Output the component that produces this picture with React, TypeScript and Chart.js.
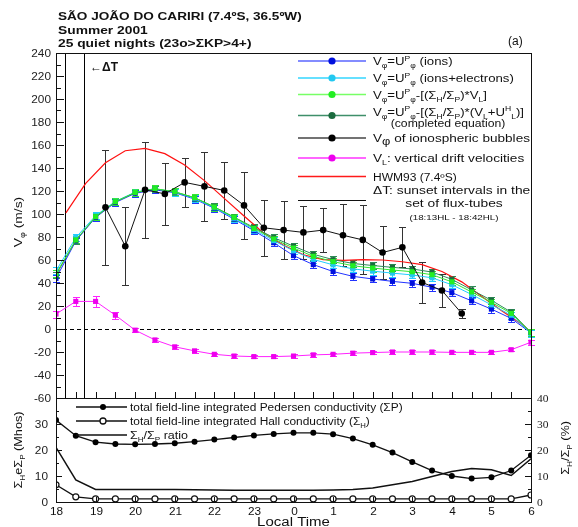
import React, { useEffect, useRef } from 'react';
import { Chart, registerables } from 'chart.js';

Chart.register(...registerables);

const FONT = '"Liberation Sans", Arial, Helvetica, sans-serif';
const SERIF = '"Liberation Serif", "Times New Roman", serif';

// x values are hours after 18:00 LT
const hourLabels = ['18', '19', '20', '21', '22', '23', '0', '1', '2', '3', '4', '5', '6'];
const halfHourTimes = [0, 0.5, 1, 1.5, 2, 2.5, 3, 3.5, 4, 4.5, 5, 5.5, 6, 6.5, 7, 7.5, 8, 8.5, 9, 9.5, 10, 10.5, 11, 11.5, 12];
const bubbleTimes = [1.25, 1.75, 2.25, 2.75, 3.25, 3.75, 4.25, 4.75, 5.25, 5.75, 6.25, 6.75, 7.25, 7.75, 8.25, 8.75, 9.25, 9.75, 10.25];
const hwmTimes = [0.25, 0.75, 1.25, 1.75, 2.25, 2.75, 3.25, 3.75, 4.25, 4.75, 5.25, 5.75, 6.25, 6.75, 7.25, 7.75, 8.25, 8.75, 9.25, 9.75, 10.25, 10.75, 11.25, 11.75, 12];
const sunsetInterval = [0.2167, 0.7]; // 18:13HL - 18:42HL
const velocityTicks = [-60, -40, -20, 0, 20, 40, 60, 80, 100, 120, 140, 160, 180, 200, 220, 240];
const conductivityTicks = [0, 10, 20, 30];
const ratioTicks = [0, 10, 20, 30, 40];

// upper panel (m/s)
const vIons = [44, 76.5, 97, 110, 118, 121, 118.5, 113, 105, 95.5, 85.5, 75, 63.8, 56, 50, 45.8, 43.5, 41.4, 39.7, 36.3, 31.6, 24.5, 17.3, 9.2, -3.5];
const vIonsErr = [3, 3, 3, 3, 3, 3, 3, 3, 3, 3, 3, 3, 3, 3, 3, 3, 3, 3, 3, 3, 3, 3, 3, 3, 3];
const vIonsElec = [50.5, 79.5, 98.5, 111, 119, 122, 119, 113.6, 105.5, 96.3, 86.5, 76.8, 68, 60.5, 55.8, 52.3, 50.3, 48.6, 47, 44.5, 38.5, 30, 21, 12, -4];
const vIonsElecErr = [3, 3, 3, 3, 3, 3, 3, 3, 3, 3, 3, 3, 3, 3, 3, 3, 3, 3, 3, 3, 3, 3, 3, 3, 3];
const vCorr = [48, 77.5, 97.7, 110.7, 118.8, 122, 119.4, 114.2, 106, 97, 87.5, 78.3, 70.4, 63.2, 58.6, 55, 53, 51.3, 49.8, 47.2, 41, 32.2, 23.2, 13.6, -3];
const vCorrErr = [3, 3, 3, 3, 3, 3, 3, 3, 3, 3, 3, 3, 3, 3, 3, 3, 3, 3, 3, 3, 3, 3, 3, 3, 3];
const vComplete = [47, 77, 97.5, 110.5, 118.5, 121.7, 119.2, 114.2, 106.2, 97.3, 88.2, 79.5, 72, 65, 60.3, 57, 55.2, 53.6, 52.2, 49.5, 43.2, 34, 25, 14.6, -3];
const vCompleteErr = [3, 3, 3, 3, 3, 3, 3, 3, 3, 3, 3, 3, 3, 3, 3, 3, 3, 3, 3, 3, 3, 3, 3, 3, 3];
const vBubbles = [105.8, 72, 121, 117.5, 127.5, 124, 120.5, 107.5, 88, 86, 84, 86, 81.5, 77.5, 66.5, 71, 40.5, 33.5, 13.5];
const vBubblesErr = [50, 33.7, 42, 27, 21, 30, 25, 29, 24.5, 25.5, 23, 19, 27, 30, 23, 17.5, 18, 14, 4];
const vVertical = [13, 24, 24, 12, -1, -9.5, -15.5, -19, -22, -23.5, -24, -24, -23.5, -22.5, -22, -21, -20.5, -20, -20, -20, -20.3, -20.3, -20.3, -18, -11.5];
const vVerticalErr = [3, 4, 4.5, 3, 1.5, 1.5, 1.5, 1.5, 1.5, 1.5, 1.5, 1.5, 1.5, 1.5, 1.5, 1.5, 1.5, 1.5, 1.5, 1.5, 1.5, 1.5, 1.5, 1.5, 2];
const hwm93 = [101, 126.7, 144.6, 155, 157, 152.5, 142.6, 129, 113.6, 98.3, 83.2, 72.8, 64.6, 60.3, 59.7, 60.3, 60, 58.5, 56, 50, 41, 28.5, 16, 4.5, -3];

// lower panel
const sigmaP = [31.5, 25.5, 23, 22.3, 22.2, 22.3, 22.6, 23.2, 24, 24.8, 25.6, 26.2, 26.6, 26.6, 26.1, 24.4, 22, 19, 15.4, 12.1, 10, 9, 9.5, 12.1, 18];
const sigmaH = [6.6, 2, 1.2, 1.2, 1.2, 1.2, 1.2, 1.2, 1.2, 1.2, 1.2, 1.2, 1.2, 1.2, 1.2, 1.2, 1.2, 1.2, 1.2, 1.2, 1.2, 1.2, 1.2, 1.2, 2.7];
const ratioHP = [21, 8.5, 4.8, 4.8, 4.8, 4.8, 4.8, 4.7, 4.6, 4.5, 4.5, 4.5, 4.5, 4.5, 4.6, 4.8, 5.4, 6.6, 7.9, 9.8, 11.7, 12.9, 12.4, 10.2, 16.6];

const pts = (xs: number[], ys: number[]) => xs.map((x, i) => ({ x, y: ys[i] }));

type Seg = { t: string; s?: 'sub' | 'sup'; k?: number };
const T = (t: string): Seg => ({ t });
const sub = (t: string): Seg => ({ t, s: 'sub' });
const sup = (t: string): Seg => ({ t, s: 'sup' });

type TextOpts = { align?: 'left' | 'center' | 'right'; weight?: string; family?: string; sx?: number; middle?: boolean };

function segFont(sg: Seg, size: number, weight: string, family: string) {
  const k = sg.k ?? (sg.s ? 0.65 : 1);
  return `${weight} ${size * k}px ${family}`;
}

function drawRich(ctx: CanvasRenderingContext2D, segs: Seg[] | string, x: number, y: number, size: number, o: TextOpts = {}) {
  const list: Seg[] = typeof segs === 'string' ? [T(segs)] : segs;
  const weight = o.weight ?? 'normal';
  const family = o.family ?? FONT;
  const sx = o.sx ?? 1.2;
  let w = 0;
  for (const sg of list) {
    ctx.font = segFont(sg, size, weight, family);
    w += ctx.measureText(sg.t).width;
  }
  let cx = o.align === 'center' ? -w / 2 : o.align === 'right' ? -w : 0;
  ctx.save();
  ctx.translate(x, y + (o.middle ? size * 0.36 : 0));
  ctx.scale(sx, 1);
  ctx.textAlign = 'left';
  ctx.textBaseline = 'alphabetic';
  for (const sg of list) {
    ctx.font = segFont(sg, size, weight, family);
    const dy = sg.s === 'sub' ? size * 0.28 : sg.s === 'sup' ? -size * 0.38 : 0;
    ctx.fillText(sg.t, cx, dy);
    cx += ctx.measureText(sg.t).width;
  }
  ctx.restore();
}

function seg(ctx: CanvasRenderingContext2D, x1: number, y1: number, x2: number, y2: number) {
  ctx.beginPath();
  ctx.moveTo(x1, y1);
  ctx.lineTo(x2, y2);
  ctx.stroke();
}

const errorBars = {
  id: 'errorBars',
  beforeDatasetsDraw(chart: any) {
    const { ctx, chartArea: a } = chart;
    const xs = chart.scales.x;
    const ys = chart.scales.y;
    ctx.save();
    ctx.strokeStyle = '#000';
    ctx.lineWidth = 1;
    ctx.setLineDash([4, 3]);
    const y0 = Math.round(ys.getPixelForValue(0)) + 0.5;
    seg(ctx, a.left, y0, a.right, y0);
    ctx.setLineDash([]);
    for (const t of sunsetInterval) {
      const px = Math.round(xs.getPixelForValue(t)) + 0.5;
      seg(ctx, px, a.top, px, a.bottom);
    }
    for (let i = chart.data.datasets.length - 1; i >= 0; i--) {
      const ds = chart.data.datasets[i];
      if (!ds.err) continue;
      const meta = chart.getDatasetMeta(i);
      ctx.strokeStyle = ds.errColor;
      ctx.lineWidth = 1;
      meta.data.forEach((el: any, j: number) => {
        const v = ds.data[j].y;
        const e = ds.err[j];
        const x = Math.round(el.x) + 0.5;
        const t = Math.round(ys.getPixelForValue(v + e)) + 0.5;
        const b = Math.round(ys.getPixelForValue(v - e)) + 0.5;
        ctx.beginPath();
        ctx.moveTo(x, t);
        ctx.lineTo(x, b);
        ctx.moveTo(x - ds.cap, t);
        ctx.lineTo(x + ds.cap, t);
        ctx.moveTo(x - ds.cap, b);
        ctx.lineTo(x + ds.cap, b);
        ctx.stroke();
      });
    }
    ctx.restore();
  },
};

const topLegend = [
  { y: 61, line: '#5a66ff', dot: '#0010dd', segs: [T('V'), sub('φ'), T('=U'), sup('P'), sub('φ'), T(' (ions)')], size: 11, sx: 1.2 },
  { y: 78, line: '#33d6ff', dot: '#22c8f0', segs: [T('V'), sub('φ'), T('=U'), sup('P'), sub('φ'), T(' (ions+electrons)')], size: 11, sx: 1.2 },
  { y: 94.5, line: '#77ff66', dot: '#22ee22', segs: [T('V'), sub('φ'), T('=U'), sup('P'), sub('φ'), T('-[(Σ'), sub('H'), T('/Σ'), sub('P'), T(')*V'), sub('L'), T(']')], size: 11, sx: 1.2 },
  { y: 115.5, line: '#3f8f6a', dot: '#1b6b3e', segs: [T('V'), sub('φ'), T('=U'), sup('P'), sub('φ'), T('-[(Σ'), sub('H'), T('/Σ'), sub('P'), T(')*(V'), sub('L'), T('+U'), sup('H'), sub('L'), T(')]')], size: 11, sx: 1.2, ty: 111.5 },
  { y: 138, line: '#444444', dot: '#000000', segs: [T('V'), { t: 'φ', s: 'sub', k: 0.95 }, T(' of ionospheric bubbles')], size: 11.5, sx: 1.18 },
  { y: 158, line: '#ff33ff', dot: '#ee00ee', segs: [T('V'), sub('L'), T(': vertical drift velocities')], size: 11, sx: 1.24 },
  { y: 176.5, line: '#ff1a1a', dot: '', segs: [T('HWM93 (7.4ºS)')], size: 10, sx: 1.2 },
];

const topDecor = {
  id: 'topDecor',
  afterDraw(chart: any) {
    const { ctx, chartArea: a } = chart;
    const xs = chart.scales.x;
    const ys = chart.scales.y;
    ctx.save();
    ctx.strokeStyle = '#111';
    ctx.lineWidth = 1;
    ctx.strokeRect(a.left + 0.5, a.top + 0.5, a.right - a.left, a.bottom - a.top);
    for (let v = -60; v <= 240; v += 10) {
      const py = Math.round(ys.getPixelForValue(v)) + 0.5;
      seg(ctx, a.left, py, a.left + (v % 20 === 0 ? 8 : 5), py);
    }
    for (const t of halfHourTimes) {
      const px = Math.round(xs.getPixelForValue(t)) + 0.5;
      seg(ctx, px, a.bottom, px, a.bottom - 6);
    }

    ctx.fillStyle = '#222';
    for (const v of velocityTicks) {
      drawRich(ctx, String(v), 51, ys.getPixelForValue(v), 10, { align: 'right', middle: true, sx: 1.18 });
    }

    ctx.fillStyle = '#111';
    drawRich(ctx, 'SÃO JOÃO DO CARIRI (7.4ºS, 36.5ºW)', 58, 20, 11.5, { weight: 'bold', sx: 1.18 });
    drawRich(ctx, 'Summer 2001', 58, 33.5, 11.5, { weight: 'bold', sx: 1.2 });
    drawRich(ctx, '25 quiet nights (23o>ΣKP>4+)', 58, 47, 11.5, { weight: 'bold', sx: 1.2 });
    drawRich(ctx, '(a)', 508, 45, 12, { sx: 1 });
    drawRich(ctx, '←ΔT', 90, 71, 12, { weight: 'bold', sx: 1 });

    ctx.save();
    ctx.translate(22, 222);
    ctx.rotate(-Math.PI / 2);
    drawRich(ctx, [T('V'), sub('φ'), T(' (m/s)')], 0, 0, 11.5, { align: 'center', sx: 1.2 });
    ctx.restore();

    for (const it of topLegend) {
      ctx.strokeStyle = it.line;
      ctx.lineWidth = 1.5;
      seg(ctx, 298, it.y, 366, it.y);
      if (it.dot) {
        ctx.fillStyle = it.dot;
        ctx.beginPath();
        ctx.arc(332, it.y, 3.6, 0, Math.PI * 2);
        ctx.fill();
      }
      ctx.fillStyle = '#111';
      drawRich(ctx, it.segs, 373, (it.ty ?? it.y) + 4, it.size, { sx: it.sx });
    }
    ctx.fillStyle = '#111';
    drawRich(ctx, '(completed equation)', 448, 127, 10, { align: 'center', sx: 1.22 });
    drawRich(ctx, 'ΔT: sunset intervals in the', 373, 194, 11.5, { sx: 1.2 });
    drawRich(ctx, 'set of flux-tubes', 454, 207, 11.5, { align: 'center', sx: 1.2 });
    drawRich(ctx, '(18:13HL - 18:42HL)', 454, 220, 8, { align: 'center', sx: 1.22 });
    ctx.strokeStyle = '#111';
    ctx.lineWidth = 1;
    seg(ctx, 298, 200.5, 366, 200.5);
    ctx.restore();
  },
};

const bottomDecor = {
  id: 'bottomDecor',
  afterDraw(chart: any) {
    const { ctx, chartArea: a } = chart;
    const xs = chart.scales.x;
    const ys = chart.scales.y;
    const y2 = chart.scales.y2;
    ctx.save();
    ctx.strokeStyle = '#111';
    ctx.lineWidth = 1;
    ctx.strokeRect(a.left + 0.5, a.top + 0.5, a.right - a.left, a.bottom - a.top);
    for (let v = 0; v <= 40; v += 5) {
      const py = Math.round(ys.getPixelForValue(v)) + 0.5;
      const len = v % 10 === 0 ? 6 : 3;
      seg(ctx, a.left, py, a.left + len, py);
      seg(ctx, a.right, py, a.right - len, py);
    }
    ctx.fillStyle = '#111';
    for (let h = 0; h < hourLabels.length; h++) {
      const px = Math.round(xs.getPixelForValue(h)) + 0.5;
      seg(ctx, px, a.bottom, px, a.bottom - 5);
      drawRich(ctx, hourLabels[h], px, a.bottom + 9, 10, { align: 'center', middle: true, sx: 1.18 });
    }
    ctx.fillStyle = '#222';
    for (const v of conductivityTicks) {
      drawRich(ctx, String(v), 48, ys.getPixelForValue(v), 10, { align: 'right', middle: true, sx: 1.18 });
    }
    for (const v of ratioTicks) {
      drawRich(ctx, String(v), 537, y2.getPixelForValue(v), 10, { family: SERIF, middle: true, sx: 1.15 });
    }

    ctx.strokeStyle = '#111';
    ctx.lineWidth = 1.3;
    seg(ctx, 76, 407, 127, 407);
    seg(ctx, 76, 421, 127, 421);
    seg(ctx, 76, 435, 127, 435);
    ctx.fillStyle = '#000';
    ctx.beginPath();
    ctx.arc(103, 407, 3, 0, Math.PI * 2);
    ctx.fill();
    ctx.fillStyle = '#fff';
    ctx.beginPath();
    ctx.arc(103, 421, 3, 0, Math.PI * 2);
    ctx.fill();
    ctx.stroke();
    ctx.fillStyle = '#111';
    drawRich(ctx, 'total field-line integrated Pedersen conductivity (ΣP)', 130, 411, 10, { sx: 1.19 });
    drawRich(ctx, [T('total field-line integrated Hall conductivity (Σ'), sub('H'), T(')')], 130, 425, 10, { sx: 1.19 });
    drawRich(ctx, [T('Σ'), sub('H'), T('/Σ'), sub('P'), T(' ratio')], 130, 439, 10.5, { sx: 1.19 });

    ctx.save();
    ctx.translate(22, 450);
    ctx.rotate(-Math.PI / 2);
    drawRich(ctx, [T('Σ'), sub('H'), T('eΣ'), sub('P'), T(' (Mhos)')], 0, 0, 11, { align: 'center', sx: 1.15 });
    ctx.restore();
    ctx.save();
    ctx.translate(569, 448);
    ctx.rotate(-Math.PI / 2);
    drawRich(ctx, [T('Σ'), sub('H'), T('/Σ'), sub('P'), T(' (%)')], 0, 0, 11, { align: 'center', sx: 1.15 });
    ctx.restore();
    drawRich(ctx, 'Local Time', (a.left + a.right) / 2, 525.5, 12, { align: 'center', sx: 1.25 });
    ctx.restore();
  },
};

export default function App() {
  const topRef = useRef<HTMLCanvasElement>(null);
  const botRef = useRef<HTMLCanvasElement>(null);

  useEffect(() => {
    const colored = (label: string, data: number[], err: number[], line: string, dot: string) => ({
      label,
      data: pts(halfHourTimes, data),
      borderColor: line,
      backgroundColor: dot,
      pointBorderColor: dot,
      borderWidth: 1,
      pointStyle: 'rect',
      pointRadius: 3.6,
      pointBorderWidth: 0,
      tension: 0,
      err,
      errColor: line,
      cap: 3.5,
    });

    const top = new Chart(topRef.current!, {
      type: 'line',
      data: {
        datasets: [
          {
            label: 'Vφ of ionospheric bubbles',
            data: pts(bubbleTimes, vBubbles),
            borderColor: '#111',
            backgroundColor: '#000',
            borderWidth: 1,
            pointStyle: 'circle',
            pointRadius: 3.3,
            pointBorderWidth: 0,
            err: vBubblesErr,
            errColor: '#333',
            cap: 3.5,
          } as any,
          colored('ions-corrected', vCorr, vCorrErr, '#33e633', '#22ee22'),
          colored('completed', vComplete, vCompleteErr, '#2e8b57', '#1b6b3e'),
          colored('ions+electrons', vIonsElec, vIonsElecErr, '#22ccff', '#22c8f0'),
          colored('ions', vIons, vIonsErr, '#2233ff', '#0010dd'),
          {
            label: 'HWM93',
            data: pts(hwmTimes, hwm93),
            borderColor: '#ff1010',
            borderWidth: 1.2,
            pointRadius: 0,
          },
          {
            label: 'VL',
            data: pts(halfHourTimes, vVertical),
            borderColor: '#ff22ff',
            backgroundColor: '#ee00ee',
            borderWidth: 1,
            pointStyle: 'rect',
            pointRadius: 3.6,
            pointBorderWidth: 0,
            err: vVerticalErr,
            errColor: '#ff22ff',
            cap: 3.5,
          } as any,
        ],
      },
      options: {
        responsive: false,
        animation: false,
        devicePixelRatio: 1,
        events: [],
        layout: { padding: { top: 53, left: 0, right: 47, bottom: 129 } },
        plugins: { legend: { display: false }, tooltip: { enabled: false } },
        scales: {
          x: {
            type: 'linear',
            min: 0,
            max: 12,
            grid: { display: false },
            border: { display: false },
            ticks: { display: false },
            afterFit: (s: any) => {
              s.height = 0;
            },
          },
          y: {
            min: -60,
            max: 240,
            ticks: { display: false, stepSize: 20 },
            grid: { display: false },
            border: { display: false },
            afterFit: (s: any) => {
              s.width = 56;
            },
          },
        },
      } as any,
      plugins: [errorBars, topDecor],
    });

    const bottom = new Chart(botRef.current!, {
      type: 'line',
      data: {
        datasets: [
          {
            label: 'ΣP',
            data: pts(halfHourTimes, sigmaP),
            borderColor: '#111',
            backgroundColor: '#000',
            borderWidth: 1.3,
            pointRadius: 3,
            pointBorderWidth: 0,
            yAxisID: 'y',
          },
          {
            label: 'ΣH',
            data: pts(halfHourTimes, sigmaH),
            borderColor: '#111',
            backgroundColor: '#fff',
            pointBorderColor: '#111',
            borderWidth: 1.3,
            pointRadius: 3,
            pointBorderWidth: 1.2,
            yAxisID: 'y',
          },
          {
            label: 'ratio',
            data: pts(halfHourTimes, ratioHP),
            borderColor: '#111',
            borderWidth: 1.5,
            pointRadius: 0,
            yAxisID: 'y2',
          },
        ],
      },
      options: {
        responsive: false,
        animation: false,
        devicePixelRatio: 1,
        events: [],
        layout: { padding: { top: 398, left: 0, right: 0, bottom: 0 } },
        plugins: { legend: { display: false }, tooltip: { enabled: false } },
        scales: {
          x: {
            type: 'linear',
            min: 0,
            max: 12,
            grid: { display: false },
            border: { display: false },
            ticks: { display: false, stepSize: 1 },
            afterFit: (s: any) => {
              s.height = 25;
            },
          },
          y: {
            min: 0,
            max: 40,
            ticks: { display: false, stepSize: 10 },
            grid: { display: false },
            border: { display: false },
            afterFit: (s: any) => {
              s.width = 56;
            },
          },
          y2: {
            position: 'right',
            min: 0,
            max: 40,
            ticks: { display: false, stepSize: 10 },
            grid: { display: false },
            border: { display: false },
            afterFit: (s: any) => {
              s.width = 47;
            },
          },
        },
      } as any,
      plugins: [bottomDecor],
    });

    return () => {
      top.destroy();
      bottom.destroy();
    };
  }, []);

  const cs: React.CSSProperties = { position: 'absolute', left: 0, top: 0, width: 578, height: 527 };
  return (
    <div style={{ position: 'fixed', left: 0, top: 0, width: 578, height: 527, background: '#fff' }}>
      <canvas ref={topRef} width={578} height={527} style={cs} />
      <canvas ref={botRef} width={578} height={527} style={cs} />
    </div>
  );
}
